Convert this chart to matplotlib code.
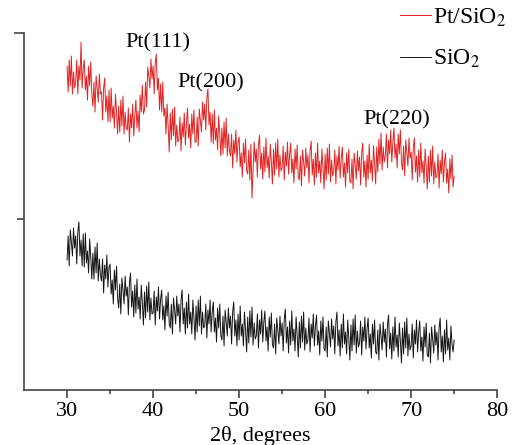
import matplotlib
matplotlib.use("Agg")
import matplotlib.pyplot as plt
import numpy as np

plt.rcParams['font.family'] = ['Liberation Serif', 'DejaVu Serif']
plt.rcParams['mathtext.fontset'] = 'stix'

# 2theta, paso de 0.125 grados entre 30 y 75
two_theta = np.arange(30.0, 75.0001, 0.125)

# intensidad Pt/SiO2 (unidades arbitrarias), una fila por grado
pt_sio2 = [
    324, 298, 330, 304, 334, 296, 318, 302,
    308, 330, 296, 324, 310, 348, 302, 322,
    330, 300, 314, 290, 324, 304, 328, 296,
    284, 308, 278, 314, 302, 288, 316, 296,
    298, 270, 302, 312, 278, 294, 268, 300,
    268, 302, 272, 284, 262, 296, 278, 256,
    284, 258, 290, 264, 294, 256, 278, 262,
    260, 282, 248, 276, 262, 286, 254, 274,
    290, 262, 279, 258, 295, 278, 305, 276,
    280, 308, 283, 323, 314, 302, 331, 311,
    324, 296, 327, 336, 300, 312, 280, 306,
    278, 308, 274, 282, 256, 286, 264, 238,
    277, 250, 281, 254, 283, 244, 265, 248,
    251, 273, 239, 267, 253, 277, 245, 265,
    282, 252, 266, 242, 276, 256, 280, 248,
    248, 273, 244, 281, 270, 258, 288, 270,
    286, 260, 292, 301, 265, 278, 248, 276,
    246, 280, 250, 262, 240, 274, 256, 234,
    262, 236, 268, 242, 272, 234, 256, 240,
    234, 256, 222, 250, 236, 260, 228, 248,
    253, 223, 237, 213, 247, 227, 251, 219,
    216, 240, 210, 246, 192, 220, 248, 228,
    241, 213, 245, 255, 221, 237, 211, 243,
    218, 252, 222, 234, 212, 246, 228, 206,
    241, 215, 247, 221, 251, 213, 235, 219,
    222, 244, 210, 238, 224, 248, 216, 236,
    247, 217, 231, 207, 241, 221, 245, 213,
    210, 234, 204, 240, 228, 214, 242, 222,
    235, 207, 239, 249, 215, 231, 205, 237,
    213, 247, 217, 229, 207, 241, 223, 201,
    236, 210, 242, 216, 246, 208, 230, 214,
    218, 240, 206, 234, 220, 244, 212, 232,
    243, 213, 227, 203, 237, 217, 241, 209,
    207, 231, 201, 237, 225, 211, 239, 219,
    233, 205, 237, 247, 213, 229, 203, 235,
    211, 246, 217, 230, 209, 244, 227, 206,
    243, 218, 251, 226, 257, 220, 243, 228,
    234, 256, 222, 250, 236, 260, 228, 248,
    262, 232, 246, 222, 256, 236, 260, 228,
    220, 244, 214, 250, 238, 224, 252, 232,
    238, 210, 242, 252, 218, 234, 208, 240,
    213, 247, 217, 229, 207, 241, 223, 201,
    234, 208, 240, 214, 244, 206, 228, 212,
    214, 236, 202, 230, 216, 240, 208, 228,
    237, 207, 221, 197, 231, 211, 235, 203,
    214,
]

# intensidad SiO2
sio2 = [
    130, 154, 124, 160, 148, 134, 162, 142,
    154, 126, 158, 168, 134, 150, 124, 156,
    123, 157, 127, 139, 117, 151, 133, 111,
    137, 111, 143, 117, 147, 109, 131, 115,
    109, 131, 97, 125, 111, 135, 103, 123,
    126, 96, 110, 86, 120, 100, 124, 92,
    82, 106, 76, 112, 100, 86, 114, 94,
    103, 75, 107, 117, 83, 99, 73, 105,
    77, 111, 81, 93, 71, 105, 87, 65,
    98, 72, 104, 78, 108, 70, 92, 76,
    77, 99, 65, 93, 79, 103, 71, 91,
    100, 70, 84, 60, 94, 74, 98, 66,
    62, 86, 56, 92, 80, 66, 94, 74,
    86, 58, 90, 100, 66, 82, 56, 88,
    62, 96, 66, 78, 56, 90, 72, 50,
    84, 58, 90, 64, 94, 56, 78, 62,
    64, 86, 52, 80, 66, 90, 58, 78,
    88, 58, 72, 48, 82, 62, 86, 54,
    50, 74, 44, 80, 68, 54, 82, 62,
    74, 46, 78, 88, 54, 70, 44, 76,
    50, 84, 54, 66, 44, 78, 60, 38,
    73, 47, 79, 53, 83, 45, 67, 51,
    54, 76, 42, 70, 56, 80, 48, 68,
    79, 49, 63, 39, 73, 53, 77, 45,
    42, 66, 36, 72, 60, 46, 74, 54,
    67, 39, 71, 81, 47, 63, 37, 69,
    45, 79, 49, 61, 39, 73, 55, 33,
    68, 42, 74, 48, 78, 40, 62, 46,
    50, 72, 38, 66, 52, 76, 44, 64,
    75, 45, 59, 35, 69, 49, 73, 41,
    39, 63, 33, 69, 57, 43, 71, 51,
    64, 36, 68, 78, 44, 60, 34, 66,
    42, 76, 46, 58, 36, 70, 52, 30,
    65, 39, 71, 45, 75, 37, 59, 43,
    47, 69, 35, 63, 49, 73, 41, 61,
    72, 42, 56, 32, 66, 46, 70, 38,
    36, 60, 30, 66, 54, 40, 68, 48,
    61, 33, 65, 75, 41, 57, 31, 63,
    39, 73, 43, 55, 33, 67, 49, 27,
    62, 36, 68, 42, 72, 34, 56, 40,
    44, 66, 32, 60, 46, 70, 38, 58,
    69, 39, 53, 29, 63, 43, 67, 35,
    33, 57, 27, 63, 51, 37, 65, 45,
    58, 30, 62, 72, 38, 54, 28, 60,
    36, 70, 40, 52, 30, 64, 46, 38,
    50,
]

# picos etiquetados
picos = ["Pt(111)", "Pt(200)", "Pt(220)"]
picos_x = [40.5, 46.7, 68.3]
picos_y = [347, 307, 270]

fig = plt.figure(figsize=(5.12, 4.45), dpi=100)
ax = fig.add_axes([0.047, 0.1236, 0.924, 0.8022])

ax.plot(two_theta, pt_sio2, color="#e02424", linewidth=0.7, label="Pt/SiO$_2$")
ax.plot(two_theta, sio2, color="#151515", linewidth=0.7, label="SiO$_2$")

for txt, px, py in zip(picos, picos_x, picos_y):
    ax.text(px, py, txt, ha="center", va="center", fontsize=16)

ax.set_xlim(25, 80)
ax.set_ylim(0, 357)
ax.set_xticks([30, 40, 50, 60, 70, 80])
ax.set_xticks([35, 45, 55, 65, 75], minor=True)
ax.set_yticks([357])
ax.set_yticks([171], minor=True)
ax.set_yticklabels([])
ax.tick_params(axis="x", labelsize=16, colors="#444444", labelcolor="black", length=6, width=1.2, pad=3)
ax.tick_params(axis="x", which="minor", colors="#444444", length=3, width=1.2)
ax.tick_params(axis="y", colors="#444444", length=7, width=1.2)
ax.tick_params(axis="y", which="minor", colors="#444444", length=5, width=1.2)

for s in ["top", "right"]:
    ax.spines[s].set_visible(False)
for s in ["left", "bottom"]:
    ax.spines[s].set_color("#444444")
    ax.spines[s].set_linewidth(1.2)

ax.set_xlabel("2θ, degrees", fontsize=16, labelpad=3)

fig.legend(loc="upper left", bbox_to_anchor=(0.781, 0.985), frameon=False,
           fontsize=17, handlelength=1.3, handletextpad=0.1, labelspacing=0.8,
           borderaxespad=0, borderpad=0)

fig.savefig("out.png", dpi=100)
